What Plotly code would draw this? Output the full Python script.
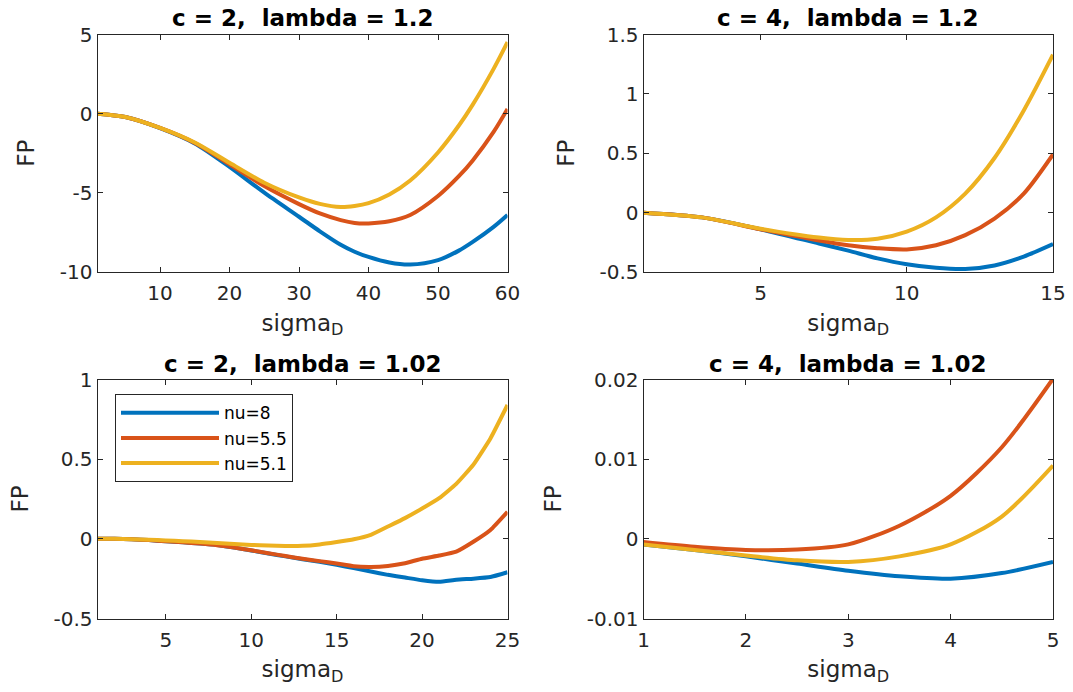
import plotly.graph_objects as go

# ---------------- data ----------------
series_names = ["nu=8", "nu=5.5", "nu=5.1"]
colors = ["#0072BD", "#D95319", "#EDB120"]

# Panel 1: c = 2, lambda = 1.2
x1 = [1, 5, 10, 15, 20, 25, 30, 33, 36, 38, 40, 43, 46, 50, 53, 55, 58, 60]
p1_nu8 = [0, -0.21, -0.91, -1.88, -3.36, -4.99, -6.51, -7.43, -8.28, -8.72, -9.05, -9.4, -9.53, -9.25, -8.65, -8.1, -7.15, -6.4]
p1_nu55 = [0, -0.21, -0.9, -1.85, -3.2, -4.57, -5.71, -6.3, -6.72, -6.9, -6.93, -6.8, -6.4, -5.2, -3.95, -2.95, -1.15, 0.3]
p1_nu51 = [0, -0.21, -0.9, -1.82, -3.1, -4.36, -5.29, -5.7, -5.9, -5.83, -5.65, -5.1, -4.22, -2.45, -0.75, 0.57, 2.83, 4.52]

# Panel 2: c = 4, lambda = 1.2
x2 = [1, 3, 5, 7, 8, 9, 10, 11, 12, 13, 14, 15]
p2_nu8 = [0, -0.04, -0.14, -0.26, -0.32, -0.385, -0.435, -0.465, -0.475, -0.445, -0.37, -0.265]
p2_nu55 = [0, -0.04, -0.14, -0.235, -0.275, -0.3, -0.31, -0.275, -0.19, -0.05, 0.16, 0.49]
p2_nu51 = [0, -0.04, -0.135, -0.21, -0.23, -0.22, -0.16, -0.04, 0.16, 0.46, 0.86, 1.33]

# Panel 3: c = 2, lambda = 1.02
x3 = list(range(1, 26))
p3_nu8 = [0, 0, -0.003, -0.008, -0.016, -0.022, -0.03, -0.038, -0.055, -0.073, -0.092, -0.11, -0.128,
          -0.144, -0.163, -0.184, -0.205, -0.226, -0.243, -0.26, -0.27, -0.257, -0.25, -0.24, -0.21]
p3_nu55 = [0, 0, -0.003, -0.008, -0.015, -0.022, -0.03, -0.04, -0.055, -0.072, -0.09, -0.108, -0.125,
           -0.14, -0.155, -0.172, -0.176, -0.17, -0.153, -0.125, -0.105, -0.08, -0.018, 0.056, 0.17]
p3_nu51 = [0, 0, -0.002, -0.006, -0.01, -0.015, -0.02, -0.026, -0.032, -0.038, -0.042, -0.045, -0.044,
           -0.035, -0.02, -0.003, 0.025, 0.077, 0.13, 0.19, 0.255, 0.345, 0.465, 0.63, 0.84]

# Panel 4: c = 4, lambda = 1.02
x4 = [1, 1.5, 2, 2.5, 3, 3.5, 4, 4.5, 5]
p4_nu8 = [-0.0007, -0.0014, -0.0022, -0.0031, -0.0040, -0.0047, -0.0050, -0.0043, -0.0029]
p4_nu55 = [-0.0004, -0.0010, -0.0014, -0.00135, -0.0007, 0.00165, 0.0054, 0.0115, 0.0201]
p4_nu51 = [-0.0007, -0.0014, -0.0021, -0.0027, -0.0029, -0.0022, -0.0007, 0.0028, 0.0092]

titles = ["c = 2,  lambda = 1.2", "c = 4,  lambda = 1.2", "c = 2,  lambda = 1.02", "c = 4,  lambda = 1.02"]

x1_ticks = [10, 20, 30, 40, 50, 60]
y1_ticks = [-10, -5, 0, 5]
y1_text = ["-10", "-5", "0", "5"]
x2_ticks = [5, 10, 15]
y2_ticks = [-0.5, 0, 0.5, 1, 1.5]
y2_text = ["-0.5", "0", "0.5", "1", "1.5"]
x3_ticks = [5, 10, 15, 20, 25]
y3_ticks = [-0.5, 0, 0.5, 1]
y3_text = ["-0.5", "0", "0.5", "1"]
x4_ticks = [1, 2, 3, 4, 5]
y4_ticks = [-0.01, 0, 0.01, 0.02]
y4_text = ["-0.01", "0", "0.01", "0.02"]

# ---------------- figure ----------------
FONT = "DejaVu Sans"
AX_COL = "#262626"
LW = 4

fig = go.Figure()

panels = [
    (x1, [p1_nu8, p1_nu55, p1_nu51], "x", "y", 0.8, False),
    (x2, [p2_nu8, p2_nu55, p2_nu51], "x2", "y2", 0.8, False),
    (x3, [p3_nu8, p3_nu55, p3_nu51], "x3", "y3", 0.4, True),
    (x4, [p4_nu8, p4_nu55, p4_nu51], "x4", "y4", 0.8, False),
]
for xs, ys_list, xa, ya, smooth, show in panels:
    for name, col, ys in zip(series_names, colors, ys_list):
        fig.add_trace(go.Scatter(
            x=xs, y=ys, mode="lines", name=name, xaxis=xa, yaxis=ya,
            line=dict(color=col, width=LW, shape="spline", smoothing=smooth),
            showlegend=show,
        ))

W, H = 1073, 692
colL = [97.5 / W, 507.5 / W]
colR = [643.5 / W, 1053 / W]
rowT = [1 - 272 / H, 1 - 34.5 / H]
rowB = [1 - 618.5 / H, 1 - 379.5 / H]


def xaxis(domain, rng, ticks, anchor):
    return dict(domain=domain, range=rng, tickvals=ticks, anchor=anchor, automargin=False,
                showline=True, linecolor=AX_COL, linewidth=1, mirror="ticks",
                ticks="inside", ticklen=5, tickcolor=AX_COL, showgrid=False, zeroline=False,
                tickfont=dict(family=FONT, size=20, color=AX_COL), ticklabelstandoff=3,
                title=dict(text="sigma<sub>D</sub>", font=dict(family=FONT, size=23, color=AX_COL), standoff=10))


def yaxis(domain, rng, ticks, text, anchor):
    return dict(domain=domain, range=rng, tickvals=ticks, ticktext=text, anchor=anchor, automargin=False,
                showline=True, linecolor=AX_COL, linewidth=1, mirror="ticks",
                ticks="inside", ticklen=5, tickcolor=AX_COL, showgrid=False, zeroline=False,
                tickfont=dict(family=FONT, size=20, color=AX_COL),
                title=dict(text="FP", font=dict(family=FONT, size=23, color=AX_COL), standoff=18))


fig.update_layout(
    width=W, height=H,
    margin=dict(l=0, r=0, t=0, b=0, autoexpand=False),
    paper_bgcolor="white", plot_bgcolor="white",
    xaxis=xaxis(colL, [1, 60], x1_ticks, "y"),
    yaxis=yaxis(rowT, [-10, 5], y1_ticks, y1_text, "x"),
    xaxis2=xaxis(colR, [1, 15], x2_ticks, "y2"),
    yaxis2=yaxis(rowT, [-0.5, 1.5], y2_ticks, y2_text, "x2"),
    xaxis3=xaxis(colL, [1, 25], x3_ticks, "y3"),
    yaxis3=yaxis(rowB, [-0.5, 1], y3_ticks, y3_text, "x3"),
    xaxis4=xaxis(colR, [1, 5], x4_ticks, "y4"),
    yaxis4=yaxis(rowB, [-0.01, 0.02], y4_ticks, y4_text, "x4"),
    legend=dict(x=115 / W, y=1 - 394.3 / H, xanchor="left", yanchor="top",
                bordercolor=AX_COL, borderwidth=1, bgcolor="white",
                font=dict(family=FONT, size=17, color="black"),
                itemwidth=98, tracegroupgap=0),
    showlegend=True,
)

title_pos = [(colL, rowT), (colR, rowT), (colL, rowB), (colR, rowB)]
for t, (cd, rd) in zip(titles, title_pos):
    fig.add_annotation(
        text="<b>" + t + "</b>", xref="paper", yref="paper",
        x=(cd[0] + cd[1]) / 2, y=rd[1], xanchor="center", yanchor="bottom",
        yshift=1, showarrow=False,
        font=dict(family=FONT, size=23, color="black"),
    )

fig.write_html("out.html")
